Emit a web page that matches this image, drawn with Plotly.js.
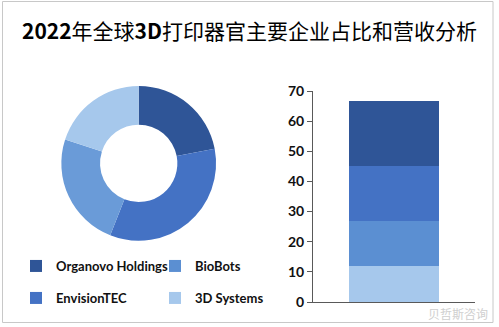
<!DOCTYPE html>
<html>
<head>
<meta charset="utf-8">
<script src="https://cdn.plot.ly/plotly-3.0.1.min.js"></script>
<style>html,body{margin:0;padding:0;background:#fff;}#chart{width:499px;height:327px;}</style>
</head>
<body>
<div id="chart"></div>
<script>
// Data
const companies = ["Organovo Holdings", "EnvisionTEC", "BioBots", "3D Systems"];
const shareValues = [22, 34, 24, 20];          // donut (%), clockwise from 12 o'clock
const revenueValues = [21.7, 18, 15, 12];        // stacked bar segments (top to bottom)
const colors = ["#2F5597", "#4472C4", "#6A9BD8", "#A6C8EC"];
const barColors = ["#2F5597", "#4472C4", "#5B8FD2", "#A6C8EC"];
const yTicks = [0, 10, 20, 30, 40, 50, 60, 70];
const titleText = "<b>2022</b>年全球<b>3D</b>打印器官主要企业占比和营收分析";
const legendRank = {"Organovo Holdings": 1, "BioBots": 2, "EnvisionTEC": 1, "3D Systems": 2};
const legendGroup = {"Organovo Holdings": "legend", "BioBots": "legend", "EnvisionTEC": "legend2", "3D Systems": "legend2"};

const W = 499, H = 327;
const traces = [];
traces.push({
  type: "pie",
  labels: companies,
  values: shareValues,
  hole: 0.5,
  sort: false,
  direction: "clockwise",
  rotation: 0,
  textinfo: "none",
  showlegend: false,
  marker: {colors: colors, line: {width: 0}},
  domain: {x: [60.7 / W, 216.7 / W], y: [(H - 240.7) / H, (H - 86) / H]}
});
// stacked bar drawn bottom-up
for (let i = companies.length - 1; i >= 0; i--) {
  traces.push({
    type: "bar",
    name: companies[i],
    x: [0],
    y: [revenueValues[i]],
    width: 0.55,
    marker: {color: barColors[i], line: {width: 0}},
    xaxis: "x", yaxis: "y",
    legend: legendGroup[companies[i]],
    legendrank: legendRank[companies[i]],
    hoverinfo: "y+name"
  });
}

const legendFont = {family: "Lato, 'Liberation Sans', sans-serif", size: 13, color: "#111", weight: "bold"};
const layout = {
  width: W, height: H,
  margin: {l: 0, r: 0, t: 0, b: 0},
  paper_bgcolor: "#ffffff",
  plot_bgcolor: "rgba(0,0,0,0)",
  barmode: "stack",
  bargap: 0,
  title: {
    text: titleText,
    font: {family: "'Noto Sans CJK SC', sans-serif", size: 21, color: "#000", weight: "normal"},
    x: 0.5, xanchor: "center", xref: "paper",
    y: 1 - 32 / H, yanchor: "middle", yref: "paper"
  },
  xaxis: {
    domain: [313 / W, 475 / W],
    range: [-0.5, 0.5],
    showticklabels: false, ticks: "",
    showgrid: false, zeroline: false,
    showline: true, linecolor: "#595959", linewidth: 1,
    fixedrange: true
  },
  yaxis: {
    domain: [(H - 302) / H, (H - 91) / H],
    range: [0, 70],
    tickvals: yTicks,
    ticktext: yTicks.map(String),
    ticks: "outside", ticklen: 5, tickcolor: "#595959",
    tickfont: {family: "Lato, 'Liberation Sans', sans-serif", size: 14, color: "#111", weight: "bold"},
    showgrid: false, zeroline: false,
    showline: true, linecolor: "#595959", linewidth: 1,
    fixedrange: true
  },
  legend: {
    orientation: "h", x: 16 / W, y: 1 - 251 / H, xanchor: "left", yanchor: "top",
    font: legendFont, entrywidth: 94, entrywidthmode: "pixels",
    bgcolor: "rgba(0,0,0,0)", traceorder: "normal", itemclick: false
  },
  legend2: {
    orientation: "h", x: 16 / W, y: 1 - 283 / H, xanchor: "left", yanchor: "top",
    font: legendFont, entrywidth: 94, entrywidthmode: "pixels",
    bgcolor: "rgba(0,0,0,0)", traceorder: "normal", itemclick: false
  },
  shapes: [{
    type: "rect", xref: "paper", yref: "paper",
    x0: 2.5 / W, x1: 493 / W, y0: 1 - 322.5 / H, y1: 1 - 1.5 / H,
    line: {color: "#c8c8c8", width: 1}, fillcolor: "rgba(0,0,0,0)", layer: "below"
  }],
  annotations: [{
    text: "贝哲斯咨询", xref: "paper", yref: "paper",
    x: 490 / W, y: 1 - 313 / H, xanchor: "right", yanchor: "middle",
    showarrow: false,
    font: {family: "'Noto Sans CJK SC', sans-serif", size: 12, color: "#cfcfcf"}
  }]
};
Plotly.newPlot("chart", traces, layout, {displayModeBar: false, staticPlot: true});
</script>
</body>
</html>
